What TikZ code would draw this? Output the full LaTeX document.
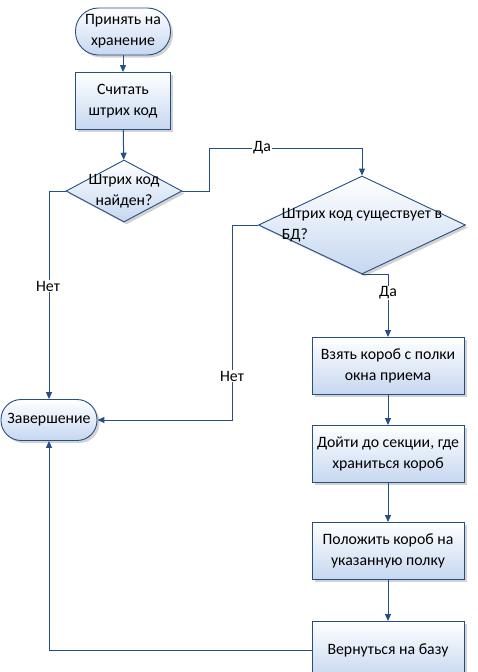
\documentclass[tikz,border=0pt]{standalone}
\usepackage{fontspec}
\setmainfont{Carlito}
\usetikzlibrary{arrows.meta, shapes.geometric, shadows}
\definecolor{edge}{RGB}{38,78,130}
\definecolor{fillblue}{RGB}{197,215,240}

\begin{document}
\begin{tikzpicture}[x=1pt, y=-1pt,
    every node/.style={font=\fontsize{15.8}{21}\selectfont},
    base/.style={draw=edge, line width=0.9pt, top color=white, bottom color=fillblue,
        drop shadow={shadow xshift=2.5pt, shadow yshift=-2.5pt, fill=black!35}},
    term/.style={base, rectangle, rounded corners=20pt, minimum width=95pt, minimum height=41pt, align=center, inner sep=0pt},
    proc/.style={base, rectangle, minimum width=152pt, minimum height=57pt, align=center},
    decision/.style={base, diamond, inner sep=0pt},
    arr/.style={draw=edge, line width=1pt, -{Triangle[length=7pt, width=6pt]}},
    lbl/.style={fill=white, inner sep=1pt}]
    \useasboundingbox (0,0) rectangle (478,672);

    \node[term, minimum height=47pt, rounded corners=23pt] (start) at (123, 31.5) {Принять на\\хранение};
    \node[proc, minimum width=95pt] (read) at (123, 101) {Считать\\штрих код};
    \node[decision, minimum width=116pt, minimum height=62pt] (found) at (124, 191) {};
    \node[align=center] (found-t) at (found) {Штрих код\\найден?};
    \node[decision, minimum width=207pt, minimum height=98pt] (exists) at (362, 225) {};
    \node[align=left] (exists-t) at (exists) {Штрих код существует в\\БД?};
    \node[term, minimum width=96pt] (finish) at (49, 420) {Завершение};

    \node[proc] (take) at (388, 366) {Взять короб с полки\\окна приема};
    \node[proc] (walk) at (388, 454) {Дойти до секции, где\\храниться короб};
    \node[proc] (put) at (388, 551) {Положить короб на\\указанную полку};
    \node[proc] (back) at (388, 650) {Вернуться на базу};

    \coordinate (c1) at (209, 148);
    \coordinate (c2) at (232, 420);

    \draw[arr] (start) -- (read);
    \draw[arr] (read) -- (found);
    \draw[arr] (found.east) -| (c1) -| (exists.north);
    \draw[arr] (found.west) -| (finish.north);
    \draw[arr] (exists.south) -| (take.north);
    \draw[arr] (exists.west) -| (c2) -- (finish.east);
    \draw[arr] (take) -- (walk);
    \draw[arr] (walk) -- (put);
    \draw[arr] (put) -- (back);
    \draw[arr] (back.west) -| (finish.south);

    \node[lbl] (yes1) at (262, 148) {Да};
    \node[lbl] (no1) at (48, 286) {Нет};
    \node[lbl] (yes2) at (388, 293) {Да};
    \node[lbl] (no2) at (232, 376) {Нет};
\end{tikzpicture}
\end{document}
